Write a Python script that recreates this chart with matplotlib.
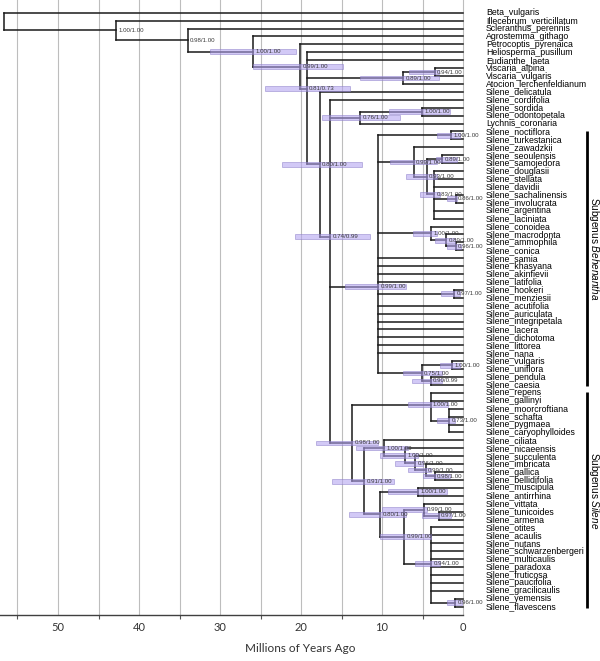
import matplotlib
matplotlib.use('Agg')
import matplotlib.pyplot as plt
from matplotlib.patches import Rectangle

plt.rcParams['font.family'] = ['Liberation Sans', 'DejaVu Sans']
plt.rcParams['mathtext.fontset'] = 'custom'
plt.rcParams['mathtext.rm'] = 'Liberation Sans'
plt.rcParams['mathtext.it'] = 'Liberation Sans:italic'

# ---------------- data ----------------
taxa = [
    'Beta_vulgaris', 'Illecebrum_verticillatum', 'Scleranthus_perennis', 'Agrostemma_githago',
    'Petrocoptis_pyrenaica', 'Heliosperma_pusillum', 'Eudianthe_laeta', 'Viscaria_alpina',
    'Viscaria_vulgaris', 'Atocion_lerchenfeldianum', 'Silene_delicatula', 'Silene_cordifolia',
    'Silene_sordida', 'Silene_odontopetala', 'Lychnis_coronaria', 'Silene_noctiflora',
    'Silene_turkestanica', 'Silene_zawadzkii', 'Silene_seoulensis', 'Silene_samojedora',
    'Silene_douglasii', 'Silene_stellata', 'Silene_davidii', 'Silene_sachalinensis',
    'Silene_involucrata', 'Silene_argentina', 'Silene_laciniata', 'Silene_conoidea',
    'Silene_macrodonta', 'Silene_ammophila', 'Silene_conica', 'Silene_samia',
    'Silene_khasyana', 'Silene_akinfievii', 'Silene_latifolia', 'Silene_hookeri',
    'Silene_menziesii', 'Silene_acutifolia', 'Silene_auriculata', 'Silene_integripetala',
    'Silene_lacera', 'Silene_dichotoma', 'Silene_littorea', 'Silene_nana',
    'Silene_vulgaris', 'Silene_uniflora', 'Silene_pendula', 'Silene_caesia',
    'Silene_repens', 'Silene_gallinyi', 'Silene_moorcroftiana', 'Silene_schafta',
    'Silene_pygmaea', 'Silene_caryophylloides', 'Silene_ciliata', 'Silene_nicaeensis',
    'Silene_succulenta', 'Silene_imbricata', 'Silene_gallica', 'Silene_bellidifolia',
    'Silene_muscipula', 'Silene_antirrhina', 'Silene_vittata', 'Silene_tunicoides',
    'Silene_armena', 'Silene_otites', 'Silene_acaulis', 'Silene_nutans',
    'Silene_schwarzenbergeri', 'Silene_multicaulis', 'Silene_paradoxa', 'Silene_fruticosa',
    'Silene_paucifolia', 'Silene_gracilicaulis', 'Silene_yemensis', 'Silene_flavescens',
]

node_names = ['root', 'n116', 'n187', 'n253', 'nB', 'nC', 'nD', 'nVisc', 'nE', 'nF',
              'n076', 'nSord', 'nBeh', 'nNoct', 'nAsian', 'n093', 'nSeoul', 'n083', 'n086',
              'nCon', 'nMacro', 'n096c', 'nHook', 'n075', 'nVulg', 'n090',
              'nSil', 'nRep', 'n073', 'n091', 'nCil', 'nNic', 'nSucc', 'nImb', 'nGal',
              'n080', 'nMusc', 'n099b', 'nVit', 'n097', 'n094', 'nYem']

node_children = [
    ['Beta_vulgaris', 'n116'],
    ['Illecebrum_verticillatum', 'n187'],
    ['Scleranthus_perennis', 'n253'],
    ['Agrostemma_githago', 'nB'],
    ['Petrocoptis_pyrenaica', 'nC'],
    ['Heliosperma_pusillum', 'Eudianthe_laeta', 'nD', 'nE'],
    ['nVisc', 'Atocion_lerchenfeldianum'],
    ['Viscaria_alpina', 'Viscaria_vulgaris'],
    ['Silene_delicatula', 'nF'],
    ['Silene_cordifolia', 'n076', 'nBeh', 'nSil'],
    ['nSord', 'Lychnis_coronaria'],
    ['Silene_sordida', 'Silene_odontopetala'],
    ['nNoct', 'nAsian', 'nCon', 'Silene_samia', 'Silene_khasyana', 'Silene_akinfievii',
     'Silene_latifolia', 'nHook', 'Silene_acutifolia', 'Silene_auriculata',
     'Silene_integripetala', 'Silene_lacera', 'Silene_dichotoma', 'Silene_littorea',
     'Silene_nana', 'n075'],
    ['Silene_noctiflora', 'Silene_turkestanica'],
    ['Silene_zawadzkii', 'n093'],
    ['nSeoul', 'n083'],
    ['Silene_seoulensis', 'Silene_samojedora'],
    ['Silene_douglasii', 'Silene_stellata', 'Silene_davidii', 'n086',
     'Silene_argentina', 'Silene_laciniata'],
    ['Silene_sachalinensis', 'Silene_involucrata'],
    ['Silene_conoidea', 'nMacro'],
    ['Silene_macrodonta', 'n096c'],
    ['Silene_ammophila', 'Silene_conica'],
    ['Silene_hookeri', 'Silene_menziesii'],
    ['nVulg', 'n090'],
    ['Silene_vulgaris', 'Silene_uniflora'],
    ['Silene_pendula', 'Silene_caesia'],
    ['nRep', 'n091'],
    ['Silene_repens', 'Silene_gallinyi', 'n073'],
    ['Silene_moorcroftiana', 'Silene_schafta', 'Silene_pygmaea', 'Silene_caryophylloides'],
    ['nCil', 'n080'],
    ['Silene_ciliata', 'nNic'],
    ['Silene_nicaeensis', 'nSucc'],
    ['Silene_succulenta', 'nImb'],
    ['Silene_imbricata', 'nGal'],
    ['Silene_gallica', 'Silene_bellidifolia'],
    ['nMusc', 'n099b'],
    ['Silene_muscipula', 'Silene_antirrhina'],
    ['nVit', 'n094'],
    ['Silene_vittata', 'n097'],
    ['Silene_tunicoides', 'Silene_armena'],
    ['Silene_otites', 'Silene_acaulis', 'Silene_nutans', 'Silene_schwarzenbergeri',
     'Silene_multicaulis', 'Silene_paradoxa', 'Silene_fruticosa', 'Silene_paucifolia',
     'Silene_gracilicaulis', 'nYem'],
    ['Silene_yemensis', 'Silene_flavescens'],
]

node_ages = [56.7, 42.8, 34.0, 25.9, 20.1, 19.3, 7.4, 3.5, 17.7, 16.4,
             12.7, 5.1, 10.5, 1.5, 6.1, 4.5, 2.6, 3.6, 0.9,
             3.9, 2.1, 0.9, 1.1, 5.1, 1.4, 4.0,
             13.7, 4.0, 1.7, 12.2, 9.7, 7.2, 5.9, 4.6, 3.5,
             10.2, 5.5, 7.3, 4.8, 3.0, 3.9, 1.0]

node_support = ['', '1.00/1.00', '0.98/1.00', '1.00/1.00', '0.99/1.00', '0.81/0.73',
                '0.89/1.00', '0.94/1.00', '0.80/1.00', '0.74/0.99',
                '0.76/1.00', '1.00/1.00', '0.99/1.00', '1.00/1.00', '0.99/1.00',
                '0.93/1.00', '0.89/1.00', '0.83/1.00', '0.86/1.00',
                '1.00/1.00', '0.89/1.00', '0.96/1.00', '0.97/1.00', '0.75/1.00',
                '1.00/1.00', '0.90/0.99',
                '0.98/1.00', '1.00/1.00', '0.73/1.00', '0.91/1.00', '1.00/1.00',
                '1.00/1.00', '0.96/1.00', '0.99/1.00', '0.98/1.00',
                '0.80/1.00', '1.00/1.00', '0.99/1.00', '0.99/1.00', '0.97/1.00',
                '0.94/1.00', '0.96/1.00']

hpd_old = [None, None, None, 31.2, 25.9, 24.4, 12.7, 6.7, 22.4, 20.7,
           17.4, 9.1, 14.6, 3.2, 9.0, 7.0, 3.3, 5.3, 2.0,
           6.2, 3.5, 2.0, 2.7, 7.4, 2.8, 6.3,
           18.1, 6.8, 3.2, 16.2, 13.2, 10.2, 8.4, 6.8, 5.0,
           14.1, 9.2, 10.2, 10.0, 5.1, 5.9, 2.0]
hpd_young = [None, None, None, 20.6, 14.8, 14.0, 3.0, 3.0, 12.5, 11.5,
             7.8, 1.6, 7.0, 0.4, 3.2, 3.2, 0.7, 2.8, 0.7,
             3.2, 1.0, 0.2, 0.4, 2.6, 0.4, 2.6,
             10.5, 1.8, 1.0, 8.5, 6.8, 5.5, 4.9, 3.9, 1.6,
             7.0, 2.0, 3.9, 4.5, 1.5, 2.8, 0.1]

subgenus_labels = ['Subgenus$\\ \\mathit{Behenantha}$', 'Subgenus$\\ \\mathit{Silene}$']
subgenus_first = ['Silene_noctiflora', 'Silene_repens']
subgenus_last = ['Silene_caesia', 'Silene_flavescens']

major_ticks = [0, 10, 20, 30, 40, 50]
minor_ticks = [5, 15, 25, 35, 45, 55]
grid_ages = [0, 5, 10, 15, 20, 25, 30, 35, 40, 45, 50, 55]

# ---------------- layout ----------------
W, H = 600, 661
fig = plt.figure(figsize=(W / 100, H / 100), dpi=100)
ax = fig.add_axes([0, 46 / H, 1, 615 / H])
ax.set_xlim(57.16, -16.91)
ax.set_ylim(76.05, -1.604)
for s in ['top', 'right', 'left']:
    ax.spines[s].set_visible(False)
ax.spines['bottom'].set_bounds(0, 57.16)
ax.spines['bottom'].set_color('#404040')
ax.spines['bottom'].set_linewidth(1.0)
ax.set_yticks([])

# positions
ypos = {t: float(i) for i, t in enumerate(taxa)}
xpos = {t: 0.0 for t in taxa}
idx = {n: i for i, n in enumerate(node_names)}


def place(n):
    if n in ypos:
        return ypos[n]
    i = idx[n]
    ys = [place(c) for c in node_children[i]]
    ypos[n] = sum(ys) / len(ys)
    xpos[n] = node_ages[i]
    return ypos[n]


for n in node_names:
    place(n)

# grid
for g in grid_ages:
    ax.axvline(g, color='#bdbdbd', lw=0.8, zorder=0)

line_kw = dict(color='#1a1a1a', lw=1.1, solid_capstyle='projecting', zorder=2)
for i, n in enumerate(node_names):
    ch = node_children[i]
    ys = [ypos[c] for c in ch]
    ax.plot([node_ages[i], node_ages[i]], [min(ys), max(ys)], **line_kw)
    for c in ch:
        ax.plot([node_ages[i], xpos[c]], [ypos[c], ypos[c]], **line_kw)

# HPD bars
for i, n in enumerate(node_names):
    if hpd_old[i] is None:
        continue
    ax.add_patch(Rectangle((hpd_young[i], ypos[n] - 0.3), hpd_old[i] - hpd_young[i], 0.6,
                           facecolor='#b3a3f0', alpha=0.58, edgecolor='#8a7cc8',
                           lw=0.6, zorder=3))

# support labels
for i, n in enumerate(node_names):
    if node_support[i]:
        ax.text(node_ages[i] - 0.3, ypos[n], node_support[i], fontsize=4.4,
                color='#3a3a3a', ha='left', va='center', zorder=4)

# tip labels
for t in taxa:
    ax.text(-2.84, ypos[t], t, fontsize=6.3, ha='left', va='center', color='black')

# subgenus bars
for lab, a, b in zip(subgenus_labels, subgenus_first, subgenus_last):
    y0, y1 = ypos[a] - 0.1, ypos[b] + 0.15
    ax.plot([-15.33, -15.33], [y0, y1], color='black', lw=2.0, clip_on=False,
            solid_capstyle='butt')
    ax.text(-16.15, (y0 + y1) / 2 - 1.2, lab, rotation=270, fontsize=7.2,
            ha='center', va='center', clip_on=False)

# axis
ax.set_xticks(major_ticks)
ax.set_xticks(minor_ticks, minor=True)
ax.tick_params(axis='x', which='major', length=0, pad=5, labelsize=8,
               labelcolor='#333333')
ax.tick_params(axis='x', which='minor', length=3, color='#555555', width=0.8)
for lbl in ax.get_xticklabels():
    lbl.set_family(['Lato', 'DejaVu Sans'])
ax.set_xlabel('Millions of Years Ago', fontsize=8.5, family=['Lato', 'DejaVu Sans'],
              color='#333333', labelpad=7)

fig.savefig('out.png', dpi=100)
